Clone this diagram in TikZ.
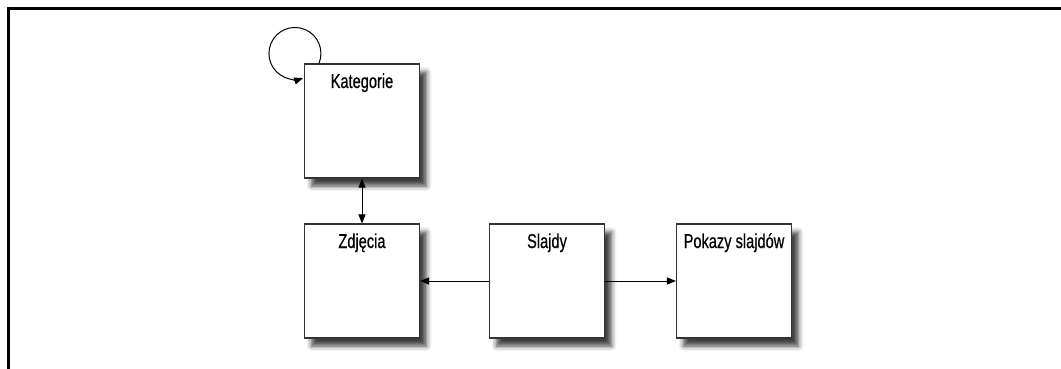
\documentclass[tikz,border=0pt]{standalone}
\usepackage{fontspec}
\setmainfont{Liberation Sans}[FakeStretch=0.73,FakeBold=0.6]
\usetikzlibrary{arrows.meta,shadows.blur}
\tikzset{
  encja/.style={draw=black!80, line width=1.1pt, fill=white, inner sep=0pt,
    minimum width=115pt, text height=24pt, text depth=90pt,
    font=\fontsize{20}{22}\selectfont,
    blur shadow={shadow xshift=7pt, shadow yshift=-8pt, shadow blur radius=5pt, shadow opacity=75}},
  strz/.style={line width=1pt, >={Triangle[length=9pt,width=7pt]}},
}
\begin{document}
\begin{tikzpicture}[x=1pt,y=-1pt]
            \useasboundingbox (0,0) rectangle (1061,369);
            \draw[line width=3pt] (8,369) -- (8,9) -- (1061,9);
            \node[encja] (kat) at (362,121) {Kategorie};
            \node[encja] (zdj) at (362,281) {Zdjęcia};
            \node[encja] (sla) at (547,281) {Slajdy};
            \node[encja] (pok) at (734,281) {Pokazy slajdów};
            \draw[strz,->] ([xshift=15pt]kat.north west) arc[start angle=-22.6, end angle=288.4, radius=26pt];
            \draw[strz,<->] (kat.south) -- (zdj.north);
            \draw[strz,->] (sla.west) -- (zdj.east);
            \draw[strz,->] (sla.east) -- (pok.west);
        \end{tikzpicture}
\end{document}
